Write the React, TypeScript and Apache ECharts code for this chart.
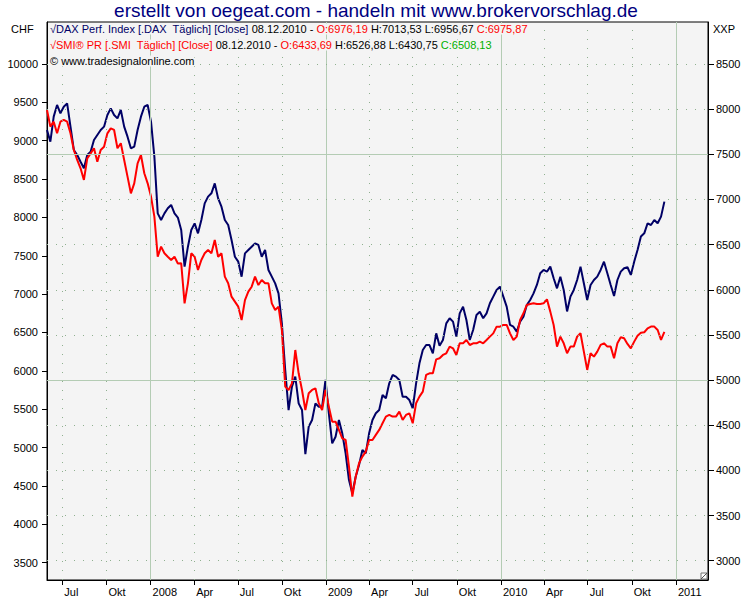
import React, { useEffect, useRef } from "react";
import * as echarts from "echarts";

// Weekly closes, first close on Wednesday 30 May 2007, last on 8 Dec 2010
const FIRST_CLOSE = "2007-05-30";

const DAX_WEEKLY = [
  7769, 7640, 7917, 8046, 7954, 8027, 8064, 7806, 7548, 7492,
  7418, 7345, 7492, 7529, 7658, 7714, 7769, 7806, 7935, 8009,
  7935, 7898, 7991, 7806, 7695, 7566, 7585, 7769, 7917, 8027,
  8046, 7861, 7474, 6846, 6773, 6846, 6902, 6939, 6846, 6800,
  6662, 6256, 6477, 6662, 6735, 6625, 6772, 6957, 7031, 7068,
  7178, 7012, 6920, 6772, 6717, 6551, 6366, 6311, 6145, 6403,
  6440, 6477, 6514, 6496, 6366, 6440, 6219, 6145, 6071, 5960,
  5628, 5111, 4668, 4927, 5038, 4742, 4668, 4180, 4484, 4558,
  4742, 4705, 4705, 5001, 4632, 4299, 4373, 4558, 4410, 4189,
  3893, 3746, 3930, 4060, 4226, 4189, 4410, 4558, 4632, 4669,
  4835, 4798, 4964, 5056, 5038, 5001, 4816, 4816, 4779, 4687,
  4964, 5185, 5333, 5388, 5388, 5296, 5517, 5380, 5444, 5628,
  5684, 5647, 5481, 5739, 5813, 5665, 5444, 5554, 5721, 5757,
  5684, 5739, 5850, 5924, 5997, 6034, 5924, 5813, 5610, 5591,
  5536, 5647, 5702, 5831, 5887, 5960, 6053, 6182, 6219, 6200,
  6256, 6127, 6016, 6145, 5997, 5760, 5924, 5998, 6108, 6256,
  6072, 5887, 6053, 6108, 6145, 6219, 6311, 6182, 6053, 5931,
  6108, 6201, 6238, 6249, 6164, 6311, 6441, 6589, 6625, 6736,
  6717, 6773, 6736, 6810, 6976,
];

const SMI_WEEKLY = [
  9400, 9183, 9248, 9096, 9248, 9270, 9248, 9096, 8879, 8749,
  8640, 8488, 8770, 8835, 8901, 8727, 8879, 8922, 9096, 9161,
  9140, 8901, 8966, 8749, 8531, 8314, 8444, 8705, 8814, 8575,
  8444, 8271, 8010, 7488, 7619, 7532, 7488, 7445, 7488, 7400,
  7401, 6880, 7141, 7532, 7488, 7315, 7445, 7532, 7575, 7532,
  7706, 7488, 7532, 7228, 7141, 6967, 6902, 6837, 6663, 6923,
  7032, 7097, 7228, 7119, 7184, 7141, 7141, 6880, 6793, 6837,
  6532, 5794, 5750, 5837, 6272, 5968, 5750, 5490, 5708, 5751,
  5773, 5577, 5490, 5751, 5534, 5338, 5338, 5230, 5121, 5099,
  4752, 4361, 4621, 4795, 4882, 4947, 5099, 5099, 5165, 5230,
  5317, 5404, 5425, 5404, 5404, 5469, 5360, 5425, 5447, 5317,
  5577, 5664, 5729, 5947, 5968, 5968, 6150, 6164, 6207, 6229,
  6316, 6294, 6207, 6359, 6359, 6402, 6337, 6359, 6359, 6381,
  6359, 6402, 6446, 6489, 6576, 6576, 6598, 6598, 6489, 6402,
  6446, 6663, 6750, 6859, 6872, 6880, 6872, 6872, 6880, 6933,
  6772, 6598, 6316, 6446, 6359, 6229, 6316, 6316, 6446, 6490,
  6251, 6012, 6229, 6185, 6251, 6338, 6359, 6316, 6316, 6164,
  6359, 6438, 6425, 6351, 6294, 6381, 6459, 6498, 6503, 6555,
  6577, 6577, 6533, 6403, 6508,
];

const X_TICKS = [
  "2007-07-01", "2007-10-01", "2008-01-01", "2008-04-01", "2008-07-01",
  "2008-10-01", "2009-01-01", "2009-04-01", "2009-07-01", "2009-10-01",
  "2010-01-01", "2010-04-01", "2010-07-01", "2010-10-01", "2011-01-01",
];
const X_TICK_LABELS = [
  "Jul", "Okt", "2008", "Apr", "Jul", "Okt", "2009", "Apr", "Jul", "Okt",
  "2010", "Apr", "Jul", "Okt", "2011",
];
const YEAR_STARTS = ["2008-01-01", "2009-01-01", "2010-01-01", "2011-01-01"];
const X_MIN = "2007-05-30";
const X_MAX = "2011-03-09";

const LEFT_TICKS = [3500, 4000, 4500, 5000, 5500, 6000, 6500, 7000, 7500, 8000, 8500, 9000, 9500, 10000];
const RIGHT_TICKS = [3000, 3500, 4000, 4500, 5000, 5500, 6000, 6500, 7000, 7500, 8000, 8500];
const RIGHT_SOLID = [5000, 7500];

const TITLE = "erstellt von oegeat.com - handeln mit www.brokervorschlag.de";
const LEGEND_DAX = ["√DAX Perf. Index [.DAX  Täglich] [Close]", " 08.12.2010 - ", "O:6976,19", " H:7013,53 L:6956,67 ", "C:6975,87"];
const LEGEND_SMI = ["√SMI® PR [.SMI  Täglich] [Close]", " 08.12.2010 - ", "O:6433,69", " H:6526,88 L:6430,75 ", "C:6508,13"];
const COPYRIGHT = "© www.tradesignalonline.com";
const LEFT_UNIT = "CHF";
const RIGHT_UNIT = "XXP";

const FONT = "Liberation Sans, Arial, sans-serif";
const NAVY = "#000066";
const RED = "#ff0000";
const GRID_SOLID = "#b4ccb4";
const GRID_DOT = "#8fb08f";

function ts(s: string) {
  const [y, m, d] = s.split("-").map(Number);
  return new Date(y, m - 1, d).getTime();
}
function weekly(values: number[]) {
  const [y, m, d] = FIRST_CLOSE.split("-").map(Number);
  return values.map((v, i) => [new Date(y, m - 1, d + 7 * i).getTime(), v]);
}

export default function App() {
  const ref = useRef<HTMLDivElement>(null);
  useEffect(() => {
    if (!ref.current) return;
    const chart = echarts.init(ref.current, null, { renderer: "svg" });
    const xTickTs = X_TICKS.map(ts);
    const yearTs = YEAR_STARTS.map(ts);
    const labelOf = (v: number) => {
      let best = -1, bd = Infinity;
      xTickTs.forEach((t, i) => { const d = Math.abs(t - v); if (d < bd) { bd = d; best = i; } });
      return best >= 0 && bd < 86400000 ? X_TICK_LABELS[best] : "";
    };
    const rich = {
      nv: { fill: NAVY, fontSize: 11, fontFamily: FONT },
      bk: { fill: "#000", fontSize: 11, fontFamily: FONT },
      rd: { fill: RED, fontSize: 11, fontFamily: FONT },
      gr: { fill: "#00b000", fontSize: 11, fontFamily: FONT },
    };
    const leg = (p: string[], first: string, last: string) =>
      `{${first}|${p[0]}}{bk|${p[1]}}{rd|${p[2]}}{bk|${p[3]}}{${last}|${p[4]}}`;

    const solidData: any[] = [];
    const dotData: any[] = [];
    xTickTs.forEach((t) => (yearTs.includes(t) ? solidData : dotData).push({ xAxis: t }));
    RIGHT_TICKS.forEach((v) => (RIGHT_SOLID.includes(v) ? solidData : dotData).push({ yAxis: v }));

    const axisFont = { color: "#000", fontSize: 11, fontFamily: FONT };

    chart.setOption({
      animation: false,
      backgroundColor: "#ffffff",
      grid: {
        left: 47, right: 42, top: 22, bottom: 20,
        show: true, backgroundColor: "#f4f4f4", borderColor: "#000", borderWidth: 1,
      },
      xAxis: {
        type: "value",
        min: ts(X_MIN),
        max: ts(X_MAX),
        axisLine: { show: true, onZero: false, lineStyle: { color: "#000" } },
        axisTick: { show: true, length: 5, customValues: xTickTs, lineStyle: { color: "#000" } },
        axisLabel: {
          ...axisFont, customValues: xTickTs, margin: 6, align: "left", padding: [0, 0, 0, 2],
          formatter: (v: number) => labelOf(v), hideOverlap: false,
        },
        splitLine: { show: false },
      },
      yAxis: [
        {
          type: "value", position: "left", min: 3274, max: 10547,
          axisLine: { show: true, onZero: false, lineStyle: { color: "#000" } },
          axisTick: { show: true, length: 5, customValues: LEFT_TICKS, lineStyle: { color: "#000" } },
          axisLabel: { ...axisFont, customValues: LEFT_TICKS, margin: 9, formatter: (v: number) => String(v) },
          splitLine: { show: false },
        },
        {
          type: "value", position: "right", min: 2786, max: 8965,
          axisLine: { show: true, onZero: false, lineStyle: { color: "#000" } },
          axisTick: { show: true, length: 6, customValues: RIGHT_TICKS, lineStyle: { color: "#000" } },
          axisLabel: { ...axisFont, customValues: RIGHT_TICKS, margin: 8, formatter: (v: number) => String(v) },
          splitLine: { show: false },
        },
      ],
      series: [
        {
          type: "line", name: "gridSolid", data: [], yAxisIndex: 1, z: 1, silent: true,
          markLine: {
            silent: true, symbol: ["none", "none"], label: { show: false }, animation: false,
            lineStyle: { color: GRID_SOLID, type: "solid", width: 1 }, data: solidData,
          },
        },
        {
          type: "line", name: "gridDot", data: [], yAxisIndex: 1, z: 1, silent: true,
          markLine: {
            silent: true, symbol: ["none", "none"], label: { show: false }, animation: false,
            lineStyle: { color: GRID_DOT, type: [1, 8], width: 1 }, data: dotData,
          },
        },
        {
          type: "line", name: "DAX", data: weekly(DAX_WEEKLY), yAxisIndex: 1, z: 3,
          showSymbol: false, symbol: "none", lineStyle: { color: NAVY, width: 2 }, itemStyle: { color: NAVY },
        },
        {
          type: "line", name: "SMI", data: weekly(SMI_WEEKLY), yAxisIndex: 0, z: 4,
          showSymbol: false, symbol: "none", lineStyle: { color: RED, width: 2 }, itemStyle: { color: RED },
        },
      ],
      graphic: [
        {
          type: "text", x: 376, y: 10, z: 10,
          style: { text: TITLE, fill: "#000080", fontSize: 19, fontFamily: FONT, align: "center", verticalAlign: "middle" },
        },
        {
          type: "text", x: 11, y: 29, z: 10,
          style: { text: LEFT_UNIT, fill: "#000", fontSize: 11, fontFamily: FONT, verticalAlign: "middle" },
        },
        {
          type: "text", x: 713, y: 29, z: 10,
          style: { text: RIGHT_UNIT, fill: "#000", fontSize: 11, fontFamily: FONT, verticalAlign: "middle" },
        },
        {
          type: "text", x: 50, y: 29, z: 10,
          style: { text: leg(LEGEND_DAX, "nv", "rd"), rich, fontSize: 11, fontFamily: FONT, verticalAlign: "middle", backgroundColor: "#f4f4f4" },
        },
        {
          type: "text", x: 50, y: 45, z: 10,
          style: { text: leg(LEGEND_SMI, "rd", "gr"), rich, fontSize: 11, fontFamily: FONT, verticalAlign: "middle", backgroundColor: "#f4f4f4" },
        },
        {
          type: "text", x: 50, y: 61, z: 10,
          style: { text: COPYRIGHT, fill: "#000", fontSize: 11, fontFamily: FONT, verticalAlign: "middle", backgroundColor: "#f4f4f4" },
        },
        {
          type: "rect", z: 10, shape: { x: 701, y: 573, width: 6, height: 6 },
          style: { fill: "#ffffff", stroke: "#777", lineWidth: 1 },
        },
        {
          type: "line", z: 11, shape: { x1: 701, y1: 579, x2: 707, y2: 573 },
          style: { stroke: "#555", lineWidth: 1 },
        },
      ],
    });
    return () => chart.dispose();
  }, []);
  return <div ref={ref} style={{ position: "absolute", left: 0, top: 0, width: 750, height: 600 }} />;
}
